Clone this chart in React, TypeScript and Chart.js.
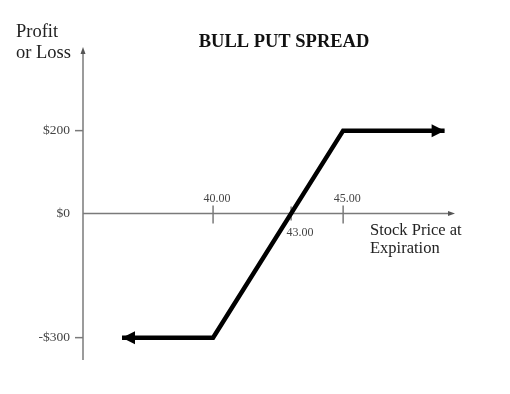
import React, { useEffect, useRef } from "react";
import { Chart, registerables } from "chart.js";

Chart.register(...registerables);

// Payoff diagram data
const stockPrices = [36.5, 40, 45, 48.9];
const profitLoss = [-300, -300, 200, 200];
const priceTicksAbove = [40, 45];
const priceTicksBelow = [43];
const profitTicks = [200, 0, -300];
const profitTickLabels = ["$200", "$0", "-$300"];
const chartTitle = "BULL PUT SPREAD";
const yAxisTitle = ["Profit", "or Loss"];
const xAxisTitle = ["Stock Price at", "Expiration"];

const SERIF = '"Liberation Serif", "Times New Roman", serif';

const diagramPlugin = {
  id: "diagram",
  beforeDraw(chart: any) {
    const ctx = chart.ctx;
    ctx.save();
    ctx.fillStyle = "#ffffff";
    ctx.fillRect(0, 0, chart.width, chart.height);
    ctx.restore();
  },
  beforeDatasetsDraw(chart: any) {
    const ctx = chart.ctx;
    const xs = chart.scales.x;
    const ys = chart.scales.y;
    const area = chart.chartArea;
    const x0 = xs.getPixelForValue(xs.min);
    const y0 = ys.getPixelForValue(0);
    ctx.save();
    ctx.strokeStyle = "#7a7a7a";
    ctx.fillStyle = "#555555";
    ctx.lineWidth = 1.5;
    // y axis
    ctx.beginPath();
    ctx.moveTo(x0, area.bottom);
    ctx.lineTo(x0, area.top + 4);
    ctx.stroke();
    ctx.beginPath();
    ctx.moveTo(x0, area.top);
    ctx.lineTo(x0 - 2.5, area.top + 7);
    ctx.lineTo(x0 + 2.5, area.top + 7);
    ctx.closePath();
    ctx.fill();
    // x axis
    ctx.beginPath();
    ctx.moveTo(x0, y0);
    ctx.lineTo(area.right - 4, y0);
    ctx.stroke();
    ctx.beginPath();
    ctx.moveTo(area.right, y0);
    ctx.lineTo(area.right - 7, y0 - 2.5);
    ctx.lineTo(area.right - 7, y0 + 2.5);
    ctx.closePath();
    ctx.fill();
    // y ticks
    profitTicks.forEach((v) => {
      if (v === 0) return;
      const py = ys.getPixelForValue(v);
      ctx.beginPath();
      ctx.moveTo(x0 - 8, py);
      ctx.lineTo(x0, py);
      ctx.stroke();
    });
    // x ticks
    priceTicksAbove.forEach((v) => {
      const px = xs.getPixelForValue(v);
      ctx.beginPath();
      ctx.moveTo(px, y0 - 8);
      ctx.lineTo(px, y0 + 10);
      ctx.stroke();
    });
    priceTicksBelow.forEach((v) => {
      const px = xs.getPixelForValue(v);
      ctx.beginPath();
      ctx.moveTo(px, y0 - 7);
      ctx.lineTo(px, y0 + 7);
      ctx.stroke();
    });
    ctx.restore();
  },
  afterDatasetsDraw(chart: any) {
    const ctx = chart.ctx;
    const meta = chart.getDatasetMeta(0);
    const pts = meta.data;
    ctx.save();
    ctx.fillStyle = "#000000";
    const drawHead = (tip: any, from: any) => {
      const ang = Math.atan2(tip.y - from.y, tip.x - from.x);
      const len = 13;
      const half = 6.5;
      const bx = tip.x - len * Math.cos(ang);
      const by = tip.y - len * Math.sin(ang);
      ctx.beginPath();
      ctx.moveTo(tip.x, tip.y);
      ctx.lineTo(bx - half * Math.sin(ang), by + half * Math.cos(ang));
      ctx.lineTo(bx + half * Math.sin(ang), by - half * Math.cos(ang));
      ctx.closePath();
      ctx.fill();
    };
    drawHead(pts[0], pts[1]);
    drawHead(pts[pts.length - 1], pts[pts.length - 2]);
    ctx.restore();
  },
  afterDraw(chart: any) {
    const ctx = chart.ctx;
    const xs = chart.scales.x;
    const ys = chart.scales.y;
    const x0 = xs.getPixelForValue(xs.min);
    const y0 = ys.getPixelForValue(0);
    ctx.save();
    // title
    ctx.fillStyle = "#111111";
    ctx.font = `bold 18.5px ${SERIF}`;
    ctx.textAlign = "center";
    ctx.textBaseline = "middle";
    ctx.fillText(chartTitle, 284, 42);
    // y axis title
    ctx.font = `18.5px ${SERIF}`;
    ctx.textAlign = "left";
    ctx.fillStyle = "#222222";
    ctx.fillText(yAxisTitle[0], 16, 32);
    ctx.fillText(yAxisTitle[1], 16, 53);
    // x axis title
    ctx.font = `16.5px ${SERIF}`;
    ctx.fillText(xAxisTitle[0], 370, 231);
    ctx.fillText(xAxisTitle[1], 370, 249);
    // y tick labels
    ctx.font = `13.5px ${SERIF}`;
    ctx.fillStyle = "#444444";
    ctx.textAlign = "right";
    profitTicks.forEach((v, i) => {
      ctx.fillText(profitTickLabels[i], x0 - 13, ys.getPixelForValue(v));
    });
    // x tick labels
    ctx.font = `12px ${SERIF}`;
    ctx.textAlign = "center";
    priceTicksAbove.forEach((v) => {
      ctx.fillText(v.toFixed(2), xs.getPixelForValue(v) + 4, y0 - 15);
    });
    priceTicksBelow.forEach((v) => {
      ctx.fillText(v.toFixed(2), xs.getPixelForValue(v) + 9, y0 + 19);
    });
    ctx.restore();
  },
};

export default function App() {
  const ref = useRef<HTMLCanvasElement | null>(null);
  useEffect(() => {
    if (!ref.current) return;
    const chart = new Chart(ref.current, {
      type: "line",
      data: {
        datasets: [
          {
            data: stockPrices.map((x, i) => ({ x, y: profitLoss[i] })),
            borderColor: "#000000",
            borderWidth: 4.5,
            pointRadius: 0,
            tension: 0,
            borderJoinStyle: "miter",
            borderCapStyle: "butt",
          },
        ],
      },
      options: {
        animation: false,
        responsive: false,
        layout: { padding: { left: 83, right: 55, top: 47, bottom: 34 } },
        plugins: { legend: { display: false }, tooltip: { enabled: false }, title: { display: false } },
        scales: {
          x: { type: "linear", min: 35, max: 49.3, display: false },
          y: { type: "linear", min: -354, max: 402, display: false },
        },
      },
      plugins: [diagramPlugin],
    } as any);
    return () => chart.destroy();
  }, []);
  return (
    <div style={{ position: "fixed", left: 0, top: 0, width: 510, height: 394, background: "#fff" }}>
      <canvas ref={ref} width={510} height={394} />
    </div>
  );
}
